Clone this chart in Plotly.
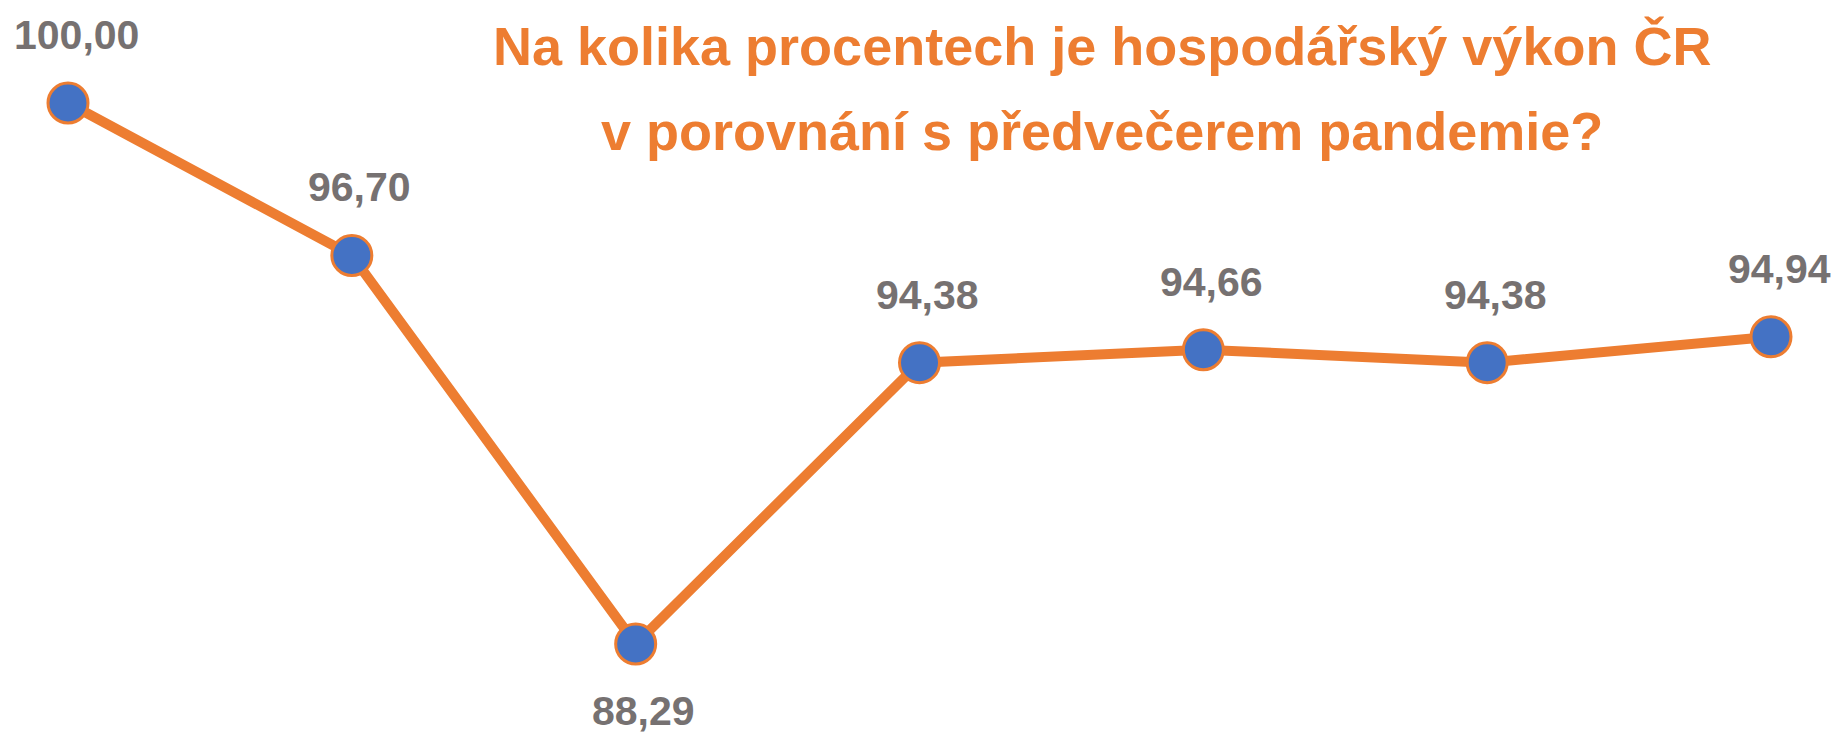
import plotly.graph_objects as go

categories = ["1", "2", "3", "4", "5", "6", "7"]
values = [100.00, 96.70, 88.29, 94.38, 94.66, 94.38, 94.94]
labels = ["100,00", "96,70", "88,29", "94,38", "94,66", "94,38", "94,94"]
label_side = ["above", "above", "below", "above", "above", "above", "above"]
title_lines = ["Na kolika procentech je hospodářský výkon ČR",
               "v porovnání s předvečerem pandemie?"]

# page has an 8px body margin; figure sized to fit inside the window
W, H = 1823, 729
ORANGE = "#ED7D31"
BLUE = "#4472C4"
GRAY = "#767171"
FONT = "Liberation Sans, Arial, sans-serif"

x_idx = list(range(len(categories)))

fig = go.Figure()
fig.add_trace(go.Scatter(
    x=x_idx, y=values, mode="lines+markers",
    line=dict(color=ORANGE, width=10),
    marker=dict(size=40, color=BLUE, line=dict(color=ORANGE, width=3)),
    hoverinfo="skip", showlegend=False,
))

annotations = []
for xi, v, lab, side in zip(x_idx, values, labels, label_side):
    annotations.append(dict(
        x=xi, y=v, xref="x", yref="y", text="<b>" + lab + "</b>", showarrow=False,
        xanchor="center", yanchor="middle",
        xshift=8, yshift=68 if side == "above" else -67,
        font=dict(family=FONT, size=41, color=GRAY),
    ))

title_y_px = [38, 122.5]
for line, ypx in zip(title_lines, title_y_px):
    annotations.append(dict(
        x=1094 / W, y=1 - ypx / H, xref="paper", yref="paper",
        text="<b>" + line + "</b>", showarrow=False,
        xanchor="center", yanchor="middle",
        font=dict(family=FONT, size=54, color=ORANGE),
    ))

fig.update_layout(
    width=W, height=H,
    margin=dict(l=0, r=0, t=0, b=0),
    paper_bgcolor="white", plot_bgcolor="white",
    xaxis=dict(range=[-0.2114, 6.2114], visible=False, fixedrange=True),
    yaxis=dict(range=[86.277, 102.056], visible=False, fixedrange=True),
    annotations=annotations,
)

fig.write_html("out.html", config={"displayModeBar": False})
